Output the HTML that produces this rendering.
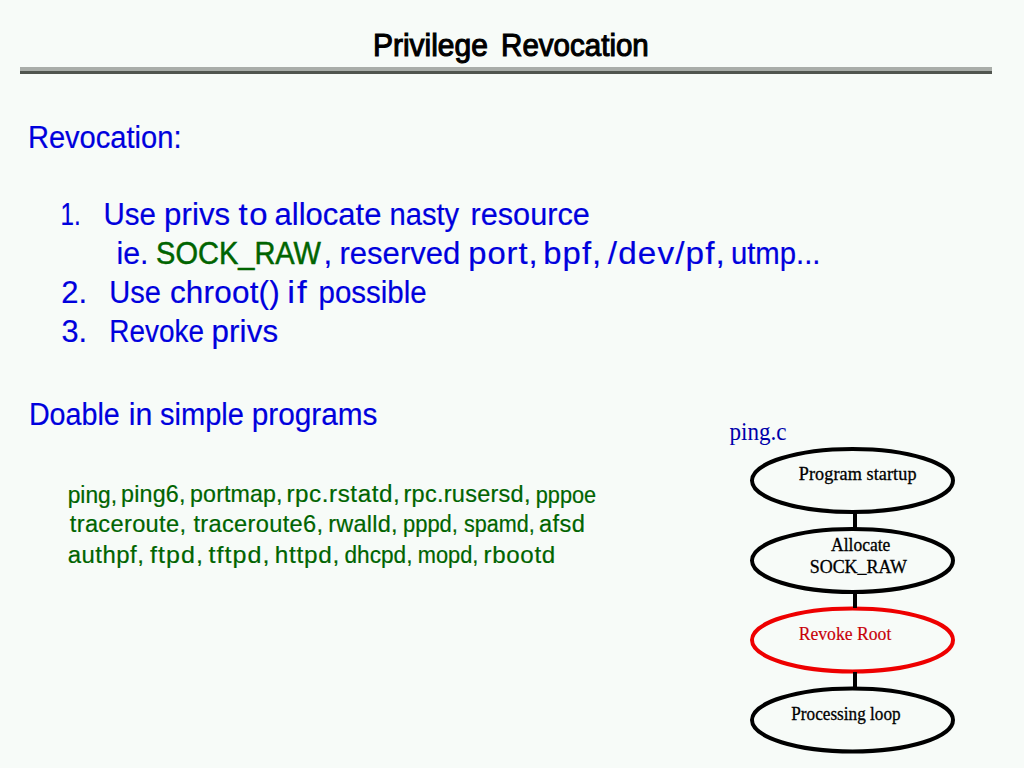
<!DOCTYPE html>
<html><head><meta charset="utf-8">
<style>
html,body{margin:0;padding:0;background:#f7fbf8;}
svg{display:block;}
.cs{font-family:"Liberation Sans",sans-serif;}
.tm{font-family:"Liberation Serif",serif;}
</style></head>
<body>
<svg width="1024" height="768" viewBox="0 0 1024 768">
<rect x="0" y="0" width="1024" height="768" fill="#f7fbf8"/>
<rect x="20" y="67" width="972" height="4" fill="#a9ada9"/>
<rect x="20" y="71" width="972" height="3" fill="#50554f"/>
<g fill="none" stroke-width="4">
<ellipse cx="852.5" cy="480.5" rx="100.5" ry="31.5" stroke="#000"/>
<ellipse cx="852.5" cy="560.5" rx="100.5" ry="31.5" stroke="#000"/>
<ellipse cx="852.5" cy="640" rx="100.5" ry="31.5" stroke="#e00"/>
<ellipse cx="852.5" cy="720" rx="100.5" ry="31.5" stroke="#000"/>
</g>
<g fill="#000">
<rect x="853" y="513" width="4" height="15"/>
<rect x="853" y="593" width="4" height="15"/>
<rect x="853" y="672" width="4" height="16"/>
</g>

<g class="cs" font-size="31" fill="#000" stroke="#000" stroke-width="1.1">
<text x="372.9" y="56" textLength="115" lengthAdjust="spacingAndGlyphs">Privilege</text>
<text x="501.1" y="56" textLength="147.7" lengthAdjust="spacingAndGlyphs">Revocation</text>
</g>
<g class="cs" font-size="31" fill="#0000dd" stroke="#0000dd" stroke-width="0.2">
<text x="27.9" y="148" textLength="153.6" lengthAdjust="spacingAndGlyphs">Revocation:</text>
<text x="60.5" y="225" textLength="20.2" lengthAdjust="spacingAndGlyphs">1.</text>
<text x="103.5" y="225" textLength="52.5" lengthAdjust="spacingAndGlyphs">Use</text>
<text transform="scale(1.0057,1)" x="163.07" y="225" textLength="65.83" lengthAdjust="spacing">privs</text>
<text transform="scale(1.0608,1)" x="224.83" y="225" textLength="27.43" lengthAdjust="spacing">to</text>
<text transform="scale(1.0007,1)" x="274.32" y="225" textLength="106.93" lengthAdjust="spacing">allocate</text>
<text x="389.5" y="225" textLength="69.7" lengthAdjust="spacingAndGlyphs">nasty</text>
<text x="470.5" y="225" textLength="119.3" lengthAdjust="spacingAndGlyphs">resource</text>
<text x="116.5" y="264" textLength="32" lengthAdjust="spacingAndGlyphs">ie.</text>
<text x="156.1" y="264" textLength="164.9" lengthAdjust="spacingAndGlyphs" fill="#006400" stroke="#006400" stroke-width="0.5">SOCK_RAW</text>
<text x="323.6" y="264">,</text>
<text transform="scale(1.0016,1)" x="338.85" y="264" textLength="120.8" lengthAdjust="spacing">reserved</text>
<text transform="scale(1.0562,1)" x="443.38" y="264" textLength="65.52" lengthAdjust="spacing">port,</text>
<text transform="scale(1.0581,1)" x="513.48" y="264" textLength="54.72" lengthAdjust="spacing">bpf,</text>
<text transform="scale(1.0727,1)" x="566.63" y="264" textLength="109.08" lengthAdjust="spacing">/dev/pf,</text>
<text x="730.9" y="264" textLength="89.6" lengthAdjust="spacingAndGlyphs">utmp...</text>
<text x="61.3" y="303" textLength="25.8" lengthAdjust="spacingAndGlyphs">2.</text>
<text x="109.2" y="303" textLength="51.7" lengthAdjust="spacingAndGlyphs">Use</text>
<text transform="scale(1.0143,1)" x="167.5" y="303" textLength="108.35" lengthAdjust="spacing">chroot()</text>
<text transform="scale(1.1245,1)" x="255.4" y="303" textLength="17.43" lengthAdjust="spacing">if</text>
<text x="318.5" y="303" textLength="108.2" lengthAdjust="spacingAndGlyphs">possible</text>
<text x="61.5" y="342" textLength="25.6" lengthAdjust="spacingAndGlyphs">3.</text>
<text x="109.3" y="342" textLength="94.6" lengthAdjust="spacingAndGlyphs">Revoke</text>
<text transform="scale(1.0102,1)" x="209.26" y="342" textLength="66.12" lengthAdjust="spacing">privs</text>
<text x="28.9" y="425" textLength="90.9" lengthAdjust="spacingAndGlyphs">Doable</text>
<text x="128.7" y="425" textLength="23.6" lengthAdjust="spacingAndGlyphs">in</text>
<text x="160" y="425" textLength="83.9" lengthAdjust="spacingAndGlyphs">simple</text>
<text x="251.7" y="425" textLength="125.8" lengthAdjust="spacingAndGlyphs">programs</text>
</g>
<g class="cs" font-size="23" fill="#006400" stroke="#006400" stroke-width="0.2">
<text x="67.7" y="502.5" textLength="49.4" lengthAdjust="spacingAndGlyphs">ping,</text>
<text transform="scale(1.0137,1)" x="119.46" y="502.5" textLength="63.53" lengthAdjust="spacing">ping6,</text>
<text transform="scale(1.0090,1)" x="188.41" y="502.5" textLength="91.58" lengthAdjust="spacing">portmap,</text>
<text transform="scale(1.0521,1)" x="272.31" y="502.5" textLength="107.59" lengthAdjust="spacing">rpc.rstatd,</text>
<text transform="scale(1.0226,1)" x="394.56" y="502.5" textLength="124.19" lengthAdjust="spacing">rpc.rusersd,</text>
<text x="535.8" y="502.5" textLength="60.4" lengthAdjust="spacingAndGlyphs">pppoe</text>
<text transform="scale(1.0280,1)" x="67.9" y="532.3" textLength="113.03" lengthAdjust="spacing">traceroute,</text>
<text transform="scale(1.0271,1)" x="188.39" y="532.3" textLength="126.08" lengthAdjust="spacing">traceroute6,</text>
<text transform="scale(1.0211,1)" x="321.43" y="532.3" textLength="67.87" lengthAdjust="spacing">rwalld,</text>
<text x="403" y="532.3" textLength="54.9" lengthAdjust="spacingAndGlyphs">pppd,</text>
<text x="464" y="532.3" textLength="70.7" lengthAdjust="spacingAndGlyphs">spamd,</text>
<text transform="scale(1.0285,1)" x="523.96" y="532.3" textLength="44.72" lengthAdjust="spacing">afsd</text>
<text transform="scale(1.0401,1)" x="65.09" y="562.6" textLength="73.17" lengthAdjust="spacing">authpf,</text>
<text transform="scale(1.0881,1)" x="137.76" y="562.6" textLength="48.71" lengthAdjust="spacing">ftpd,</text>
<text transform="scale(1.0920,1)" x="190.94" y="562.6" textLength="55.86" lengthAdjust="spacing">tftpd,</text>
<text transform="scale(1.0587,1)" x="259.47" y="562.6" textLength="60.92" lengthAdjust="spacing">httpd,</text>
<text x="344.5" y="562.6" textLength="68" lengthAdjust="spacingAndGlyphs">dhcpd,</text>
<text x="417.8" y="562.6" textLength="60.6" lengthAdjust="spacingAndGlyphs">mopd,</text>
<text transform="scale(1.0485,1)" x="461.13" y="562.6" textLength="68.38" lengthAdjust="spacing">rbootd</text>
</g>
<g class="tm" font-size="25" fill="#0000aa" stroke="#0000aa" stroke-width="0">
<text x="729.5" y="440" textLength="57" lengthAdjust="spacingAndGlyphs">ping.c</text>
</g>
<g class="tm" font-size="18" fill="#000" stroke="#000" stroke-width="0.3">
<text transform="scale(1.0100,1)" x="790.81" y="479.6" textLength="116.64" lengthAdjust="spacing">Program startup</text>
<text x="831.1" y="550.8" textLength="59.3" lengthAdjust="spacingAndGlyphs">Allocate</text>
<text x="809.7" y="572.6" textLength="97.3" lengthAdjust="spacingAndGlyphs">SOCK_RAW</text>
<text x="798.7" y="640" textLength="92.6" lengthAdjust="spacingAndGlyphs" fill="#c80008" stroke="#c80008" stroke-width="0.15">Revoke Root</text>
<text x="791.3" y="720" textLength="109.3" lengthAdjust="spacingAndGlyphs">Processing loop</text>
</g>
</svg>
</body></html>
